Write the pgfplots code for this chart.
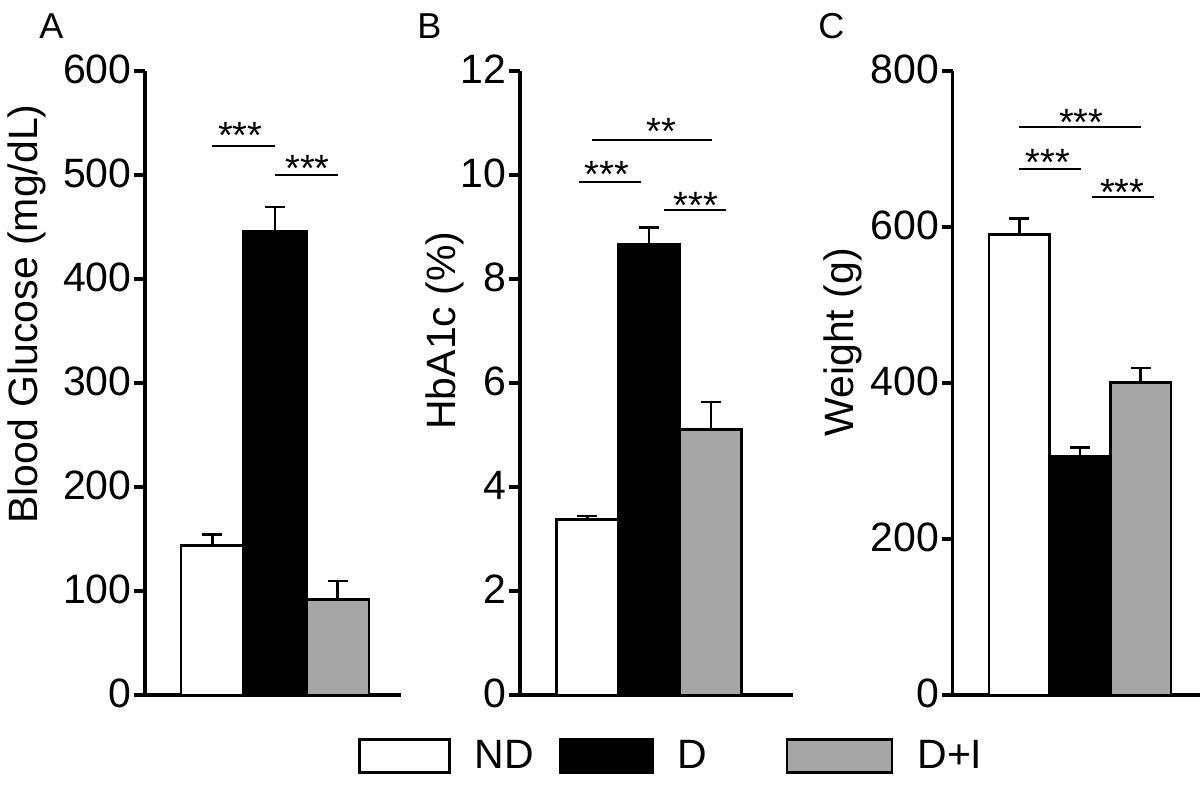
\documentclass[border=0pt]{standalone}
\usepackage{pgfplots}
\pgfplotsset{compat=1.18}
\usepackage{fontspec}
\setmainfont{Liberation Sans}
\definecolor{bargray}{RGB}{166,166,166}
\newcommand{\fs}{\fontsize{20.5}{24}\selectfont}
\newcommand{\fsa}{\fontsize{19}{22}\selectfont}
\pgfplotsset{
  panel/.style={
    scale only axis, height=312pt, anchor=south west,
    axis x line=bottom, axis y line=left,
    axis line style={-, line width=1.6pt, black},
    xtick=\empty, tick align=outside, ytick pos=left,
    major tick length=5.5pt,
    every tick/.style={black, line width=1.6pt},
    tick label style={font=\fs},
    /pgf/number format/assume math mode=true,
    yticklabel style={anchor=east, inner sep=0pt, xshift=-1pt, yshift=1pt},
    ymin=0, clip=false,
  },
  mybar/.style={ybar, bar width=1, bar shift=0pt, draw=black, line width=1.3pt,
    error bars/y dir=plus, error bars/y explicit, error bars/error mark=|,
    error bars/error bar style={line width=1.2pt, black},
    error bars/error mark options={line width=1.2pt, mark size=5pt, black}},
  ndbar/.style={fill=white, mybar},
  dbar/.style={fill=black, mybar},
  dibar/.style={fill=bargray, mybar},
  sig/.style={black, line width=1pt, no markers, forget plot},
}
\tikzset{star/.style={anchor=base, inner sep=0pt, font=\fsa}}
\begin{document}
\begin{tikzpicture}
\useasboundingbox (0pt,0pt) rectangle (600pt,393.5pt);
% Panel letters
\node[anchor=north west, inner sep=0pt, font=\fontsize{18}{21}\selectfont] at (19.5pt,387pt) {A};
\node[anchor=north west, inner sep=0pt, font=\fontsize{18}{21}\selectfont] at (208.5pt,387pt) {B};
\node[anchor=north west, inner sep=0pt, font=\fontsize{18}{21}\selectfont] at (409pt,387pt) {C};

% Panel A
\begin{axis}[panel, at={(72.5pt,46pt)}, width=128pt,
  xmin=-0.074, xmax=4.01, ymax=600, ytick={0,100,...,600},
  every axis y label/.style={at={(axis description cs:-0.539,0.6106)}, rotate=90, anchor=north, inner sep=0pt, font=\fs},
  ylabel={Blood Glucose (mg/dL)}]
\addplot[ndbar] coordinates {(1,144) +- (0,10.5)};
\addplot[dbar] coordinates {(2,446) +- (0,23)};
\addplot[dibar] coordinates {(3,92) +- (0,17.6)};
\addplot[sig] coordinates {(1,528) (2,528)};
\addplot[sig] coordinates {(2,500) (3,500)};
\node[star] at (axis cs:1.446,525.2) {***};
\node[star] at (axis cs:2.519,493.8) {***};
\end{axis}

% Panel B
\begin{axis}[panel, at={(260pt,46pt)}, width=136.35pt,
  xmin=-0.095, xmax=4.33, ymax=12, ytick={0,2,...,12},
  every axis y label/.style={at={(axis description cs:-0.348,0.584)}, rotate=90, anchor=north, inner sep=0pt, font=\fs},
  ylabel={HbA1c (\%)},
  legend columns=3,
  legend cell align=left,
  legend style={at={(axis description cs:-0.594,-0.0978)}, anchor=west, draw=none, fill=none,
    inner sep=0pt, outer sep=0pt, font=\fs, nodes={inner sep=0pt},
    /tikz/every odd column/.append style={column sep=12pt},
    /tikz/every even column/.append style={column sep=0pt}},
  ]
\addplot[ndbar, legend image code/.code={\draw[fill=white, draw=black, line width=1.3pt] (0pt,-8.25pt) rectangle (45pt,8.25pt);}] coordinates {(1,3.38) +- (0,0.06)};
\addlegendentry{\makebox[42.3pt][l]{ND}}
\addplot[dbar, legend image code/.code={\draw[fill=black, draw=black, line width=1.3pt] (0pt,-8.25pt) rectangle (46pt,8.25pt);}] coordinates {(2,8.67) +- (0,0.32)};
\addlegendentry{\makebox[54pt][l]{D}}
\addplot[dibar, legend image code/.code={\draw[fill=bargray, draw=black, line width=1.3pt] (0pt,-8.25pt) rectangle (52.5pt,8.25pt);}] coordinates {(3,5.10) +- (0,0.54)};
\addlegendentry{D+I}
\addplot[sig] coordinates {(0.862,9.87) (1.862,9.87)};
\addplot[sig] coordinates {(1.078,10.67) (3.024,10.67)};
\addplot[sig] coordinates {(2.24,9.32) (3.245,9.32)};
\node[star] at (axis cs:1.311,9.76) {***};
\node[star] at (axis cs:2.203,10.59) {**};
\node[star] at (axis cs:2.756,9.16) {***};
\end{axis}

% Panel C
\begin{axis}[panel, at={(476.35pt,46pt)}, width=123.65pt,
  xmin=-0.098, xmax=3.978, ymax=800, ytick={0,200,...,800},
  every axis y label/.style={at={(axis description cs:-0.5245,0.565)}, rotate=90, anchor=north, inner sep=0pt, font=\fs},
  ylabel={Weight (g)}]
\addplot[ndbar] coordinates {(1,590.5) +- (0,20.5)};
\addplot[dbar] coordinates {(2,306.4) +- (0,10.7)};
\addplot[dibar] coordinates {(3,400.9) +- (0,18)};
\addplot[sig] coordinates {(1,728.2) (3,728.2)};
\addplot[sig] coordinates {(1,674.9) (2.017,674.9)};
\addplot[sig] coordinates {(2.2,638.5) (3.22,638.5)};
\node[star] at (axis cs:2.022,717.8) {***};
\node[star] at (axis cs:1.473,666.5) {***};
\node[star] at (axis cs:2.696,627.2) {***};
\end{axis}
\end{tikzpicture}
\end{document}
